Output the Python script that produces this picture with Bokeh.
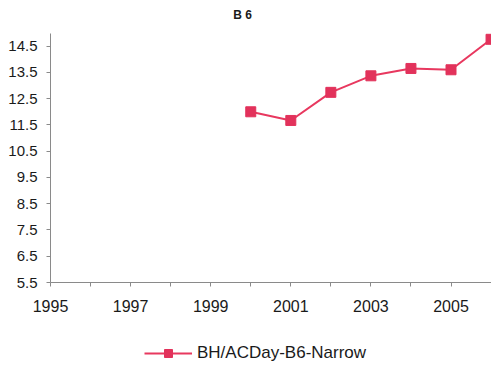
from bokeh.plotting import figure
from bokeh.models import (Range1d, FixedTicker, Label, Legend, LegendItem,
                          ColumnDataSource)
from bokeh.embed import file_html
from bokeh.resources import INLINE

# ---- data ----
years = [2000, 2001, 2002, 2003, 2004, 2005, 2006]
values = [12.0, 11.67, 12.74, 13.37, 13.65, 13.6, 14.76]
series_name = "BH/ACDay-B6-Narrow"
title_text = "B 6"
x_ticks = list(range(1995, 2007))
x_labelled = [1995, 1997, 1999, 2001, 2003, 2005]
y_ticks = [5.5, 6.5, 7.5, 8.5, 9.5, 10.5, 11.5, 12.5, 13.5, 14.5]
x_axis_min = 1995
y_axis_min, y_axis_max = 5.5, 15.0

LINE = "#e8385f"
MARK = "#e2325b"
AXIS = "#8a8a8a"
TXT = "#1a1a1a"
FONT = "Liberation Sans"

W, H = 491, 373
# plot area in pixels: x 50..491, y 32.5..282; the frame covers the whole canvas
X0, Y_TOP, Y_BOT = 50, 32.5, 282
xunit = 40.05
unit = (Y_BOT - Y_TOP) / (y_axis_max - y_axis_min)
x_lo = x_axis_min - X0 / xunit
x_hi = x_axis_min + (W - X0) / xunit
y_lo = y_axis_min - (H - Y_BOT) / unit
y_hi = y_axis_max + Y_TOP / unit

p = figure(width=W, height=H, output_backend="svg", toolbar_location=None,
           x_range=Range1d(x_lo, x_hi), y_range=Range1d(y_lo, y_hi),
           min_border_left=0, min_border_right=0, min_border_top=0,
           min_border_bottom=0)
p.outline_line_color = None
p.xgrid.visible = False
p.ygrid.visible = False
p.background_fill_color = "white"
p.border_fill_color = "white"

src = ColumnDataSource(dict(x=years, y=values))
ln = p.line("x", "y", source=src, line_color=LINE, line_width=2)
sc = p.scatter("x", "y", source=src, marker="square", size=10,
               fill_color=MARK, line_color=MARK)

# axes
p.xaxis.ticker = FixedTicker(ticks=x_ticks)
p.xaxis.major_label_overrides = {t: (str(t) if t in x_labelled else "") for t in x_ticks}
p.xaxis.fixed_location = y_axis_min
p.xaxis.bounds = (x_axis_min, x_hi)
p.yaxis.ticker = FixedTicker(ticks=y_ticks)
p.yaxis.major_label_overrides = {t: f"{t:.1f}" for t in y_ticks}
p.yaxis.bounds = (y_axis_min, y_axis_max)
p.yaxis.fixed_location = x_axis_min
for ax in (p.xaxis, p.yaxis):
    ax.axis_line_color = AXIS
    ax.axis_line_width = 1
    ax.major_tick_line_color = AXIS
    ax.major_tick_out = 4
    ax.major_tick_in = 0
    ax.minor_tick_out = 0
    ax.minor_tick_in = 0
    ax.major_label_text_color = TXT
    ax.major_label_text_font = FONT
p.xaxis.major_label_text_font_size = "16px"
p.xaxis.major_label_standoff = 13
p.yaxis.major_label_text_font_size = "15px"
p.yaxis.major_label_standoff = 9

# title (screen units are relative to the frame's bottom-left corner)
p.add_layout(Label(x=242, y=H - 14.5, x_units="screen", y_units="screen",
                   text=title_text, text_font=FONT, text_font_size="12px",
                   text_font_style="bold", text_color=TXT,
                   text_align="center", text_baseline="middle"))

# legend
legend = Legend(items=[LegendItem(label=series_name, renderers=[ln, sc])],
                location=(144, 10), glyph_width=48, glyph_height=20,
                label_standoff=5, padding=0, margin=0, spacing=0,
                border_line_color=None, background_fill_alpha=0,
                label_text_font=FONT, label_text_font_size="17px",
                label_text_color=TXT, orientation="horizontal")
p.add_layout(legend, "center")

open("out.html", "w").write(file_html(p, INLINE))
